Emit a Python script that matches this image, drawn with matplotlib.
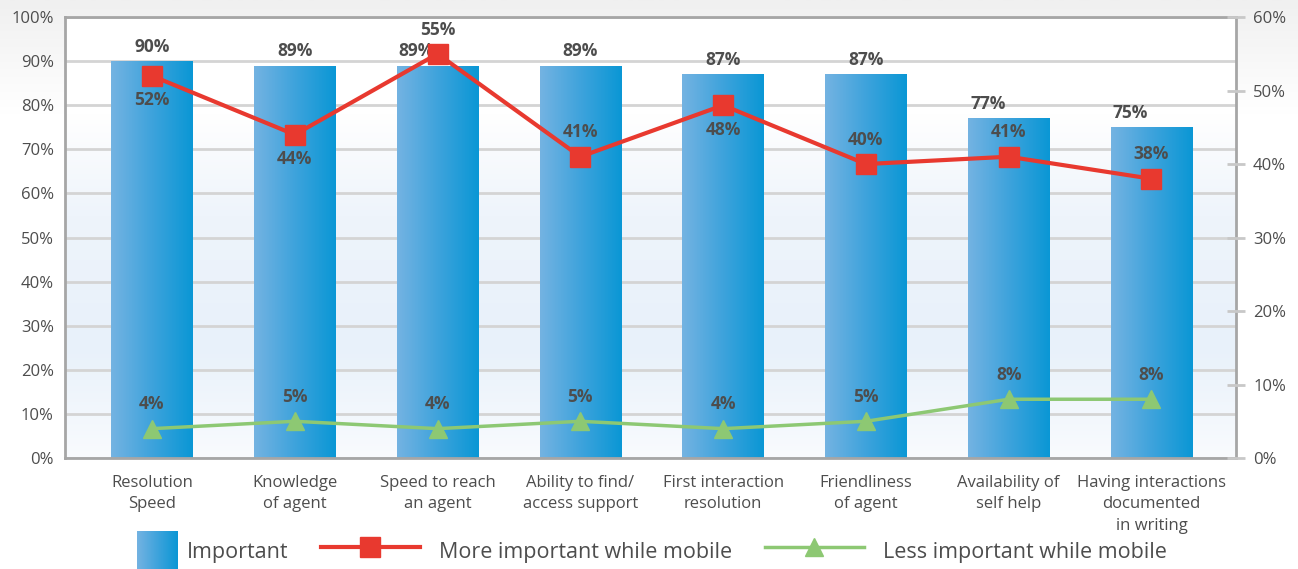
import numpy as np
import matplotlib
matplotlib.use("Agg")
import matplotlib.pyplot as plt
from matplotlib.colors import LinearSegmentedColormap
from matplotlib.lines import Line2D
from matplotlib.patches import Patch
from matplotlib.image import BboxImage
from matplotlib.transforms import Bbox, TransformedBbox

# ---------------- data ----------------
categories = ["Resolution\nSpeed", "Knowledge\nof agent", "Speed to reach\nan agent",
              "Ability to find/\naccess support", "First interaction\nresolution",
              "Friendliness\nof agent", "Availability of\nself help",
              "Having interactions\ndocumented\nin writing"]
important = [90, 89, 89, 89, 87, 87, 77, 75]
more_mobile = [52, 44, 55, 41, 48, 40, 41, 38]
less_mobile = [4, 5, 4, 5, 4, 5, 8, 8]
left_ticks = list(range(0, 101, 10))
right_ticks = list(range(0, 61, 10))

# where the value labels sit relative to their marks
bar_label_dx = [0, 0, -0.15, 0, 0, 0, -0.14, -0.15]
red_label_above = [False, False, True, True, False, True, True, True]

plt.rcParams['font.family'] = ['Open Sans', 'DejaVu Sans']
TXT = "#4d4d4d"
GRAY = "#a6a6a6"
RED = "#e8392f"
GREEN = "#8dc873"

bar_cmap = LinearSegmentedColormap.from_list("barblue", ["#74b3e2", "#3ea3dc", "#0a97d5"])
bg_cmap = LinearSegmentedColormap.from_list(
    "bg", [(0.0, "#f9fbfe"), (0.25, "#e8f1fa"), (0.55, "#eef4fb"), (0.78, "#ffffff"), (1.0, "#ffffff")])

fig = plt.figure(figsize=(12.98, 5.69), dpi=100)

# faint gray wash at the top of the page
bg = fig.add_axes([0, 0, 1, 1], zorder=-10)
bg.imshow(np.linspace(0, 1, 256).reshape(-1, 1), aspect='auto', extent=(0, 1, 0, 1),
          cmap=LinearSegmentedColormap.from_list("pg", [(0, "#ffffff"), (0.8, "#ffffff"), (1, "#f0f0f0")]),
          origin='lower')
bg.set_axis_off()

ax = fig.add_axes([0.050, 0.195, 0.902, 0.775])
ax.set_facecolor('none')
x = np.arange(len(categories))
XLIM = (-0.61, len(categories) - 0.41)

# plot-area background gradient
ax.imshow(np.linspace(0, 1, 256).reshape(-1, 1), aspect='auto', extent=(0, 1, 0, 1),
          transform=ax.transAxes, cmap=bg_cmap, origin='lower', zorder=0)

ax.set_yticks(left_ticks)
ax.set_yticklabels([f"{t}%" for t in left_ticks], fontsize=12, color=TXT)
ax.yaxis.grid(True, color="#d4d4d4", linewidth=2, zorder=1)
ax.set_axisbelow(True)
ax.tick_params(axis='y', length=0, pad=8)
ax.set_xticks(x)
ax.set_xticklabels(categories, fontsize=12, color=TXT, linespacing=1.45)
ax.tick_params(axis='x', length=0, pad=12)
for s in ax.spines.values():
    s.set_color(GRAY)
    s.set_linewidth(2)

# bars with a left-to-right gradient
grad = np.linspace(0, 1, 256).reshape(1, -1)
bars = ax.bar(x, important, width=0.57, color='none', edgecolor='none', zorder=2)
for b in bars:
    x0, w, h = b.get_x(), b.get_width(), b.get_height()
    im = ax.imshow(grad, aspect='auto', extent=(x0, x0 + w, 0, h), cmap=bar_cmap,
                   origin='lower', zorder=2)
    im.set_clip_path(b)
ax.set_xlim(*XLIM)
ax.set_ylim(0, 100)

for xi, v, dx in zip(x, important, bar_label_dx):
    ax.annotate(f"{v}%", (xi + dx, v), xytext=(0, 4), textcoords='offset points',
                ha='center', va='bottom', fontsize=12.5, fontweight='bold', color=TXT, zorder=5)

# secondary axis for the mobile series
ax2 = ax.twinx()
ax2.set_ylim(0, 60)
ax2.set_yticks(right_ticks)
ax2.set_yticklabels([f"{t}%" for t in right_ticks], fontsize=12, color=TXT)
ax2.tick_params(axis='y', direction='inout', length=13, width=2, color="#c8c8c8", pad=6)
for s in ax2.spines.values():
    s.set_visible(False)

ax2.plot(x, more_mobile, color=RED, linewidth=3, marker='s', markersize=15, zorder=4)
ax2.plot(x, less_mobile, color=GREEN, linewidth=2.5, marker='^', markersize=13, zorder=4)

for xi, v, up in zip(x, more_mobile, red_label_above):
    ax2.annotate(f"{v}%", (xi, v), xytext=(0, 11 if up else -11), textcoords='offset points',
                 ha='center', va='bottom' if up else 'top', fontsize=12.5,
                 fontweight='bold', color=TXT, zorder=5)
for xi, v in zip(x, less_mobile):
    ax2.annotate(f"{v}%", (xi, v), xytext=(0, 11), textcoords='offset points',
                 ha='center', va='bottom', fontsize=12.5, fontweight='bold', color=TXT, zorder=5)


class GradientSquare:
    # gradient swatch sitting near the right end of the handle slot
    def legend_artist(self, legend, orig_handle, fontsize, handlebox):
        w, h = handlebox.width, handlebox.height
        side = h * 1.33
        gap = 0.45 * fontsize
        box = Bbox.from_bounds(-handlebox.xdescent + w - side + gap,
                               -handlebox.ydescent - 0.2 * h, side, side)
        img = BboxImage(TransformedBbox(box, handlebox.get_transform()), cmap=bar_cmap,
                        interpolation='bilinear')
        img.set_data(grad)
        handlebox.add_artist(img)
        return img


handles = [Patch(label="Important"),
           Line2D([], [], color=RED, linewidth=3, marker='s', markersize=15,
                  label="More important while mobile"),
           Line2D([], [], color=GREEN, linewidth=2.5, marker='^', markersize=13,
                  label="Less important while mobile")]
fig.legend(handles=handles, handler_map={Patch: GradientSquare()}, loc='center',
           bbox_to_anchor=(0.476, 0.032), ncol=3, frameon=False, fontsize=15.5,
           handlelength=4.6, handleheight=1.8, handletextpad=0.9, columnspacing=1.5,
           labelcolor=TXT)

fig.savefig("out.png", dpi=100)
